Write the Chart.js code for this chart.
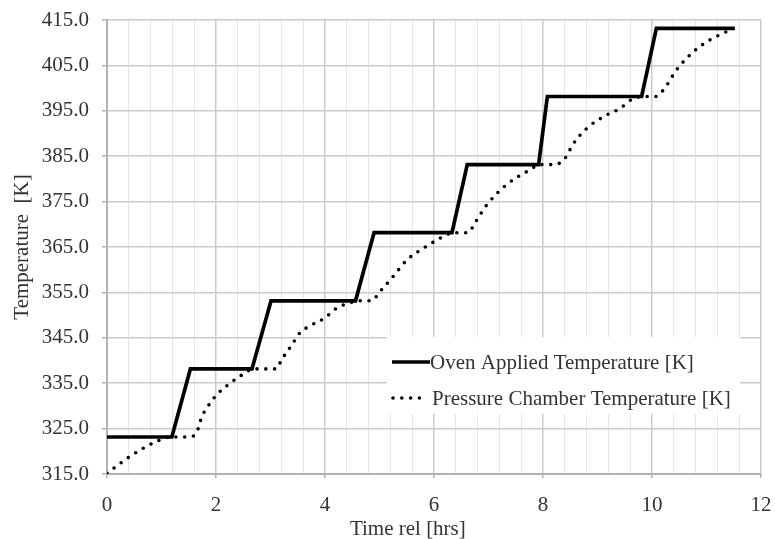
<!DOCTYPE html>
<html>
<head>
<meta charset="utf-8">
<title>Oven and pressure chamber temperature</title>
<script src="https://cdn.jsdelivr.net/npm/chart.js@4.4.1/dist/chart.umd.min.js"></script>
<style>
    html, body { margin: 0; padding: 0; background: #fff; }
    #wrap { width: 775px; height: 539px; }
</style>
</head>
<body>
<div id="wrap"><canvas id="tempChart" width="775" height="539"></canvas></div>
<script>
// Oven set point (stepped ramps of 15 K)
const ovenTime = [0, 1.19, 1.53, 2.66, 3.01, 4.56, 4.90, 6.33, 6.61, 7.92, 8.08, 9.81, 10.08, 11.52];
const ovenTemp = [323.15, 323.15, 338.15, 338.15, 353.15, 353.15, 368.15, 368.15, 383.15, 383.15, 398.15, 398.15, 413.15, 413.15];

// Measured pressure chamber temperature
const chamberTime = [0, 0.33, 0.61, 0.88, 1.16, 1.52, 1.65, 1.74, 1.83, 2.01, 2.26, 2.50, 2.70,
    3.11, 3.20, 3.39, 3.54, 3.69, 4.00, 4.21, 4.46, 4.62, 4.85, 5.01, 5.25, 5.50, 5.80, 6.05, 6.29, 6.40,
    6.63, 6.75, 6.97, 7.33, 7.76, 7.95, 8.22, 8.40, 8.56, 8.80, 9.11, 9.41, 9.63, 9.85,
    10.06, 10.21, 10.45, 10.76, 11.06, 11.31, 11.49];
const chamberTemp = [315.15, 318.1, 320.3, 322.0, 323.15, 323.15, 324.3, 327.6, 329.5, 332.4, 335.0, 337.0, 338.15,
    338.15, 340.1, 343.4, 346.1, 347.4, 349.4, 351.5, 352.7, 353.15, 353.15, 355.2, 358.5, 362.1, 364.7, 366.5, 368.0, 368.15,
    368.15, 370.3, 374.3, 378.7, 382.0, 383.15, 383.15, 384.5, 387.8, 391.1, 393.7, 395.5, 397.5, 398.15,
    398.15, 399.6, 404.0, 408.0, 410.6, 412.1, 413.15];

const seriesLabels = ['Oven Applied Temperature [K]', 'Pressure Chamber Temperature [K]'];

// Axis ticks
const xMajorTicks = [0, 2, 4, 6, 8, 10, 12];
const xMinorStep = 0.4;
const yTicks = [315, 325, 335, 345, 355, 365, 375, 385, 395, 405, 415];

const FONT = "'Liberation Serif', 'Times New Roman', serif";
const FONT_SIZE = 21;
const TEXT_COLOR = '#333333';
const AXIS_COLOR = '#b2b2b2';

function toPoints(xs, ys) {
    return xs.map((x, i) => ({ x: x, y: ys[i] }));
}

function isMajor(v) {
    return xMajorTicks.some(t => Math.abs(t - v) < 1e-6);
}

// Legend inside the plot, bottom right, on a white box
const insideLegend = {
    id: 'insideLegend',
    afterDraw(chart) {
        const ctx = chart.ctx;
        const area = chart.chartArea;
        const bx = area.right - 374;
        const by = area.bottom - 137;
        ctx.save();
        ctx.fillStyle = '#ffffff';
        ctx.fillRect(bx, by, 353, 77);

        ctx.font = FONT_SIZE + 'px ' + FONT;
        ctx.fillStyle = TEXT_COLOR;
        ctx.textBaseline = 'middle';
        ctx.textAlign = 'left';

        chart.data.datasets.forEach((ds, i) => {
            const y = by + 25 + i * 36;
            ctx.beginPath();
            ctx.strokeStyle = ds.borderColor;
            ctx.lineWidth = ds.borderWidth;
            ctx.lineCap = ds.borderCapStyle || 'butt';
            ctx.setLineDash(ds.borderDash || []);
            if (ds.borderDash) {
                ctx.moveTo(bx + 6, y);
                ctx.lineTo(bx + 34, y);
            } else {
                ctx.moveTo(bx + 5, y);
                ctx.lineTo(bx + 43, y);
            }
            ctx.stroke();
            ctx.setLineDash([]);
            ctx.fillText(ds.label, bx + (ds.borderDash ? 45 : 43), y + 1);
        });

        // x axis title, sits a little left of the axis middle
        ctx.textAlign = 'center';
        ctx.textBaseline = 'alphabetic';
        ctx.fillText('Time rel [hrs]', area.left + (area.right - area.left) * 0.46, 535);
        ctx.restore();
    }
};

const ctx = document.getElementById('tempChart').getContext('2d');
new Chart(ctx, {
    type: 'line',
    data: {
        datasets: [{
            label: seriesLabels[0],
            data: toPoints(ovenTime, ovenTemp),
            borderColor: '#000000',
            borderWidth: 3.7,
            tension: 0,
            pointRadius: 0,
            fill: false
        }, {
            label: seriesLabels[1],
            data: toPoints(chamberTime, chamberTemp),
            borderColor: '#000000',
            borderWidth: 3.6,
            borderDash: [0, 8.8],
            borderCapStyle: 'round',
            cubicInterpolationMode: 'monotone',
            pointRadius: 0,
            fill: false
        }]
    },
    options: {
        responsive: false,
        animation: false,
        layout: { padding: { top: 20, right: 14, left: 0, bottom: 0 } },
        plugins: {
            legend: { display: false },
            tooltip: { enabled: false }
        },
        scales: {
            x: {
                type: 'linear',
                min: 0,
                max: 12,
                afterBuildTicks: scale => {
                    const ticks = [];
                    for (let i = 0; i * xMinorStep <= 12 + 1e-9; i++) {
                        ticks.push({ value: Math.round(i * xMinorStep * 10) / 10 });
                    }
                    scale.ticks = ticks;
                },
                afterFit: scale => {
                    scale.height = 65;
                    scale.paddingLeft = 0;
                    scale.paddingRight = 0;
                },
                ticks: {
                    autoSkip: false,
                    maxRotation: 0,
                    padding: 15,
                    color: TEXT_COLOR,
                    font: { family: FONT, size: FONT_SIZE },
                    callback: v => isMajor(v) ? String(Math.round(v)) : ''
                },
                grid: {
                    color: c => isMajor(c.tick.value) ? '#cbcbcb' : '#e6e6e6',
                    lineWidth: c => isMajor(c.tick.value) ? 1.5 : 1,
                    tickLength: 4,
                    tickColor: c => isMajor(c.tick.value) ? AXIS_COLOR : 'rgba(0,0,0,0)'
                },
                border: { color: AXIS_COLOR, width: 2 }
            },
            y: {
                min: 315,
                max: 415,
                afterBuildTicks: scale => {
                    scale.ticks = yTicks.map(v => ({ value: v }));
                },
                afterFit: scale => {
                    scale.width = 107;
                    scale.paddingTop = 0;
                    scale.paddingBottom = 0;
                },
                ticks: {
                    padding: 13,
                    color: TEXT_COLOR,
                    font: { family: FONT, size: FONT_SIZE },
                    callback: v => Number(v).toFixed(1)
                },
                grid: {
                    color: '#cbcbcb',
                    lineWidth: 1.5,
                    tickLength: 5,
                    tickColor: AXIS_COLOR
                },
                border: { color: AXIS_COLOR, width: 2 },
                title: {
                    display: true,
                    text: 'Temperature  [K]',
                    color: TEXT_COLOR,
                    font: { family: FONT, size: FONT_SIZE },
                    padding: { top: 10, bottom: 0 }
                }
            }
        }
    },
    plugins: [insideLegend]
});
</script>
</body>
</html>
